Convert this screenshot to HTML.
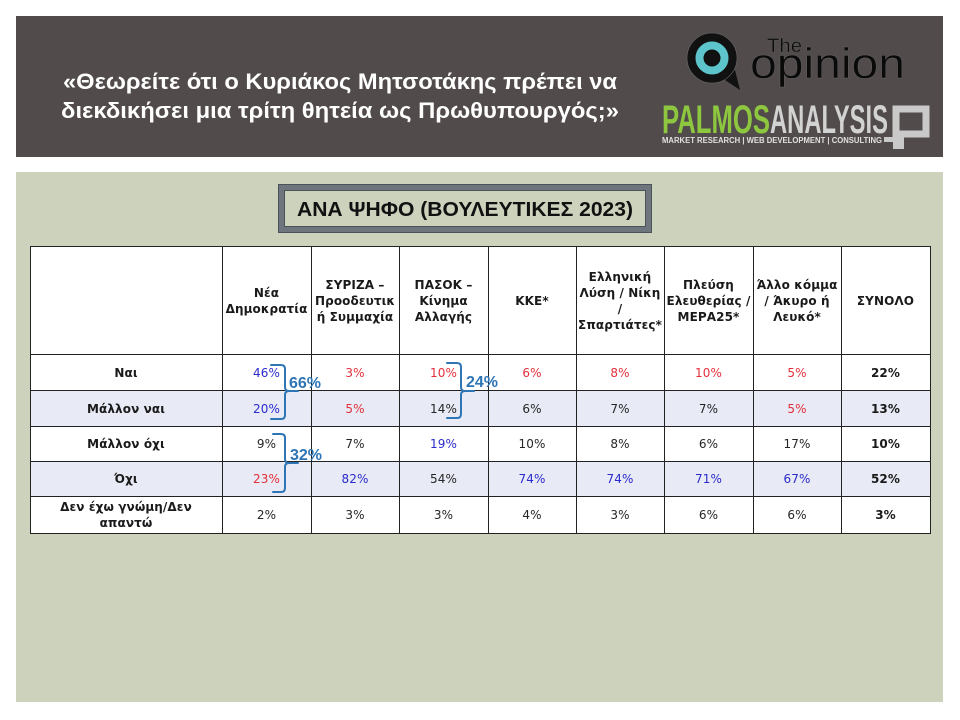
<!DOCTYPE html>
<html>
<head>
<meta charset="utf-8">
<style>
  html,body{margin:0;padding:0;}
  body{width:960px;height:720px;position:relative;background:#ffffff;overflow:hidden;font-family:"DejaVu Sans","Liberation Sans",sans-serif;}
  .abs{position:absolute;}
  .c{position:absolute;display:flex;align-items:center;justify-content:center;text-align:center;font-family:"DejaVu Sans",sans-serif;font-size:12px;letter-spacing:0.1px;line-height:16px;white-space:nowrap;color:#262626;}
  .b{font-weight:bold;color:#1a1a1a;letter-spacing:0.1px;}
  .bl{color:#2b2bcc;}
  .rd{color:#e2303a;}
  .hl{position:absolute;height:1px;background:#222;}
  .vl{position:absolute;width:1px;background:#222;}
</style>
</head>
<body>

<!-- header band -->
<div class="abs" style="left:16px;top:16px;width:927px;height:141px;background:#524b4b;"></div>
<!-- green panel -->
<div class="abs" style="left:16px;top:172px;width:927px;height:530px;background:#cdd2bc;"></div>

<!-- title box -->
<div class="abs" style="left:278px;top:184px;width:374px;height:49px;box-sizing:border-box;border:1px solid #4c5259;background:#6f757c;"></div>
<div class="abs" style="left:284px;top:190px;width:362px;height:37px;box-sizing:border-box;border:1px solid #4c5259;background:#cdd2bc;"></div>

<!-- table background -->
<div class="abs" style="left:30px;top:246px;width:900px;height:287px;background:#ffffff;"></div>
<div class="abs" style="left:30px;top:390px;width:900px;height:36px;background:#e8eaf5;"></div>
<div class="abs" style="left:30px;top:461px;width:900px;height:35px;background:#e8eaf5;"></div>

<!-- horizontal lines -->
<div class="hl" style="left:30px;top:246px;width:901px;"></div>
<div class="hl" style="left:30px;top:354px;width:901px;"></div>
<div class="hl" style="left:30px;top:390px;width:901px;"></div>
<div class="hl" style="left:30px;top:426px;width:901px;"></div>
<div class="hl" style="left:30px;top:461px;width:901px;"></div>
<div class="hl" style="left:30px;top:496px;width:901px;"></div>
<div class="hl" style="left:30px;top:533px;width:901px;"></div>
<!-- vertical lines -->
<div class="vl" style="left:30px;top:246px;height:288px;"></div>
<div class="vl" style="left:222px;top:246px;height:288px;"></div>
<div class="vl" style="left:311px;top:246px;height:288px;"></div>
<div class="vl" style="left:399px;top:246px;height:288px;"></div>
<div class="vl" style="left:488px;top:246px;height:288px;"></div>
<div class="vl" style="left:576px;top:246px;height:288px;"></div>
<div class="vl" style="left:664px;top:246px;height:288px;"></div>
<div class="vl" style="left:753px;top:246px;height:288px;"></div>
<div class="vl" style="left:841px;top:246px;height:288px;"></div>
<div class="vl" style="left:930px;top:246px;height:288px;"></div>

<!-- header row -->
<div class="c b" style="left:222px;top:247px;width:89px;height:107px;">Νέα<br>Δημοκρατία</div>
<div class="c b" style="left:311px;top:247px;width:88px;height:107px;">ΣΥΡΙΖΑ –<br>Προοδευτικ<br>ή Συμμαχία</div>
<div class="c b" style="left:399px;top:247px;width:89px;height:107px;">ΠΑΣΟΚ –<br>Κίνημα<br>Αλλαγής</div>
<div class="c b" style="left:488px;top:247px;width:88px;height:107px;">ΚΚΕ*</div>
<div class="c b" style="left:576px;top:247px;width:88px;height:107px;">Ελληνική<br>Λύση / Νίκη<br>/<br>Σπαρτιάτες*</div>
<div class="c b" style="left:664px;top:247px;width:89px;height:107px;">Πλεύση<br>Ελευθερίας /<br>ΜΕΡΑ25*</div>
<div class="c b" style="left:753px;top:247px;width:88px;height:107px;">Άλλο κόμμα<br>/ Άκυρο ή<br>Λευκό*</div>
<div class="c b" style="left:841px;top:247px;width:89px;height:107px;">ΣΥΝΟΛΟ</div>

<!-- Row: Ναι -->
<div class="c b" style="left:30px;top:355px;width:192px;height:35px;">Ναι</div>
<div class="c bl" style="left:222px;top:355px;width:89px;height:35px;">46%</div>
<div class="c rd" style="left:311px;top:355px;width:88px;height:35px;">3%</div>
<div class="c rd" style="left:399px;top:355px;width:89px;height:35px;">10%</div>
<div class="c rd" style="left:488px;top:355px;width:88px;height:35px;">6%</div>
<div class="c rd" style="left:576px;top:355px;width:88px;height:35px;">8%</div>
<div class="c rd" style="left:664px;top:355px;width:89px;height:35px;">10%</div>
<div class="c rd" style="left:753px;top:355px;width:88px;height:35px;">5%</div>
<div class="c b" style="left:841px;top:355px;width:89px;height:35px;">22%</div>

<!-- Row: Μάλλον ναι -->
<div class="c b" style="left:30px;top:391px;width:192px;height:35px;">Μάλλον ναι</div>
<div class="c bl" style="left:222px;top:391px;width:89px;height:35px;">20%</div>
<div class="c rd" style="left:311px;top:391px;width:88px;height:35px;">5%</div>
<div class="c" style="left:399px;top:391px;width:89px;height:35px;">14%</div>
<div class="c" style="left:488px;top:391px;width:88px;height:35px;">6%</div>
<div class="c" style="left:576px;top:391px;width:88px;height:35px;">7%</div>
<div class="c" style="left:664px;top:391px;width:89px;height:35px;">7%</div>
<div class="c rd" style="left:753px;top:391px;width:88px;height:35px;">5%</div>
<div class="c b" style="left:841px;top:391px;width:89px;height:35px;">13%</div>

<!-- Row: Μάλλον όχι -->
<div class="c b" style="left:30px;top:427px;width:192px;height:34px;">Μάλλον όχι</div>
<div class="c" style="left:222px;top:427px;width:89px;height:34px;">9%</div>
<div class="c" style="left:311px;top:427px;width:88px;height:34px;">7%</div>
<div class="c bl" style="left:399px;top:427px;width:89px;height:34px;">19%</div>
<div class="c" style="left:488px;top:427px;width:88px;height:34px;">10%</div>
<div class="c" style="left:576px;top:427px;width:88px;height:34px;">8%</div>
<div class="c" style="left:664px;top:427px;width:89px;height:34px;">6%</div>
<div class="c" style="left:753px;top:427px;width:88px;height:34px;">17%</div>
<div class="c b" style="left:841px;top:427px;width:89px;height:34px;">10%</div>

<!-- Row: Όχι -->
<div class="c b" style="left:30px;top:462px;width:192px;height:34px;">Όχι</div>
<div class="c rd" style="left:222px;top:462px;width:89px;height:34px;">23%</div>
<div class="c bl" style="left:311px;top:462px;width:88px;height:34px;">82%</div>
<div class="c" style="left:399px;top:462px;width:89px;height:34px;">54%</div>
<div class="c bl" style="left:488px;top:462px;width:88px;height:34px;">74%</div>
<div class="c bl" style="left:576px;top:462px;width:88px;height:34px;">74%</div>
<div class="c bl" style="left:664px;top:462px;width:89px;height:34px;">71%</div>
<div class="c bl" style="left:753px;top:462px;width:88px;height:34px;">67%</div>
<div class="c b" style="left:841px;top:462px;width:89px;height:34px;">52%</div>

<!-- Row: Δεν έχω γνώμη -->
<div class="c b" style="left:30px;top:497px;width:192px;height:36px;">Δεν έχω γνώμη/Δεν<br>απαντώ</div>
<div class="c" style="left:222px;top:497px;width:89px;height:36px;">2%</div>
<div class="c" style="left:311px;top:497px;width:88px;height:36px;">3%</div>
<div class="c" style="left:399px;top:497px;width:89px;height:36px;">3%</div>
<div class="c" style="left:488px;top:497px;width:88px;height:36px;">4%</div>
<div class="c" style="left:576px;top:497px;width:88px;height:36px;">3%</div>
<div class="c" style="left:664px;top:497px;width:89px;height:36px;">6%</div>
<div class="c" style="left:753px;top:497px;width:88px;height:36px;">6%</div>
<div class="c b" style="left:841px;top:497px;width:89px;height:36px;">3%</div>

<!-- overlay SVG: title, logo, brackets -->
<svg class="abs" style="left:0;top:0;" width="960" height="720" viewBox="0 0 960 720" xmlns="http://www.w3.org/2000/svg">
  <!-- Question title -->
  <text x="63" y="89" font-family="Liberation Sans, DejaVu Sans, sans-serif" font-weight="bold" font-size="22" fill="#ffffff" textLength="554" lengthAdjust="spacingAndGlyphs">«Θεωρείτε ότι ο Κυριάκος Μητσοτάκης πρέπει να</text>
  <text x="61" y="118" font-family="Liberation Sans, DejaVu Sans, sans-serif" font-weight="bold" font-size="22" fill="#ffffff" textLength="558" lengthAdjust="spacingAndGlyphs">διεκδικήσει μια τρίτη θητεία ως Πρωθυπουργός;»</text>

  <!-- The opinion logo -->
  <path d="M722,78 L740,90 L735,70 Z" fill="#111111"/>
  <circle cx="712" cy="58" r="25" fill="#111111" stroke="#6a6a6a" stroke-width="0.6"/>
  <circle cx="712" cy="58" r="12.5" fill="none" stroke="#5ec4cc" stroke-width="8"/>
  <text x="767" y="52" font-family="Liberation Sans, sans-serif" font-size="19" fill="#0a0a0a" stroke="#666" stroke-width="0.3" textLength="35" lengthAdjust="spacingAndGlyphs">The</text>
  <text x="750" y="78" font-family="Liberation Sans, sans-serif" font-size="43" fill="#0a0a0a" stroke="#666" stroke-width="0.4" textLength="155" lengthAdjust="spacingAndGlyphs">opinion</text>

  <!-- PALMOS ANALYSIS logo -->
  <text x="662" y="133" font-family="Liberation Sans, sans-serif" font-weight="bold" font-size="40" fill="#8dc63f" textLength="108" lengthAdjust="spacingAndGlyphs">PALMOS</text>
  <text x="770" y="133" font-family="Liberation Sans, sans-serif" font-weight="bold" font-size="40" fill="#d2d2d2" textLength="118" lengthAdjust="spacingAndGlyphs">ANALYSIS</text>
  <text x="662" y="143" font-family="Liberation Sans, sans-serif" font-weight="bold" font-size="8" fill="#e0e0e0" textLength="220" lengthAdjust="spacingAndGlyphs">MARKET RESEARCH | WEB DEVELOPMENT | CONSULTING</text>
  <rect x="896" y="109" width="30" height="25" fill="none" stroke="#c9c9c9" stroke-width="7"/>
  <rect x="884" y="137" width="14" height="5" fill="#c9c9c9"/>
  <rect x="893" y="134" width="11" height="15" fill="#c9c9c9"/>

  <!-- Section title -->
  <text x="465" y="216" text-anchor="middle" font-family="Liberation Sans, DejaVu Sans, sans-serif" font-weight="bold" font-size="20" fill="#111111" textLength="336" lengthAdjust="spacingAndGlyphs">ΑΝΑ ΨΗΦΟ (ΒΟΥΛΕΥΤΙΚΕΣ 2023)</text>

  <!-- brackets -->
  <g fill="none" stroke="#2e75b6" stroke-width="2" stroke-linecap="round">
    <path d="M271,365 L281,365 Q285,365 285,369 L285,387 Q285,391 289,391 L298,391 M289,391 Q285,391 285,395 L285,415 Q285,419 281,419 L271,419"/>
    <path d="M273,434 L281,434 Q285,434 285,438 L285,459 Q285,463 289,463 L298,463 M289,463 Q285,463 285,467 L285,488 Q285,492 281,492 L273,492"/>
    <path d="M447,363 L457,363 Q461,363 461,367 L461,387 Q461,391 465,391 L474,391 M465,391 Q461,391 461,395 L461,414 Q461,418 457,418 L447,418"/>
  </g>
  <g font-family="Liberation Sans, sans-serif" font-weight="bold" font-size="16" fill="#2e75b6">
    <text x="289" y="388">66%</text>
    <text x="290" y="460">32%</text>
    <text x="466" y="387">24%</text>
  </g>
</svg>

</body>
</html>
